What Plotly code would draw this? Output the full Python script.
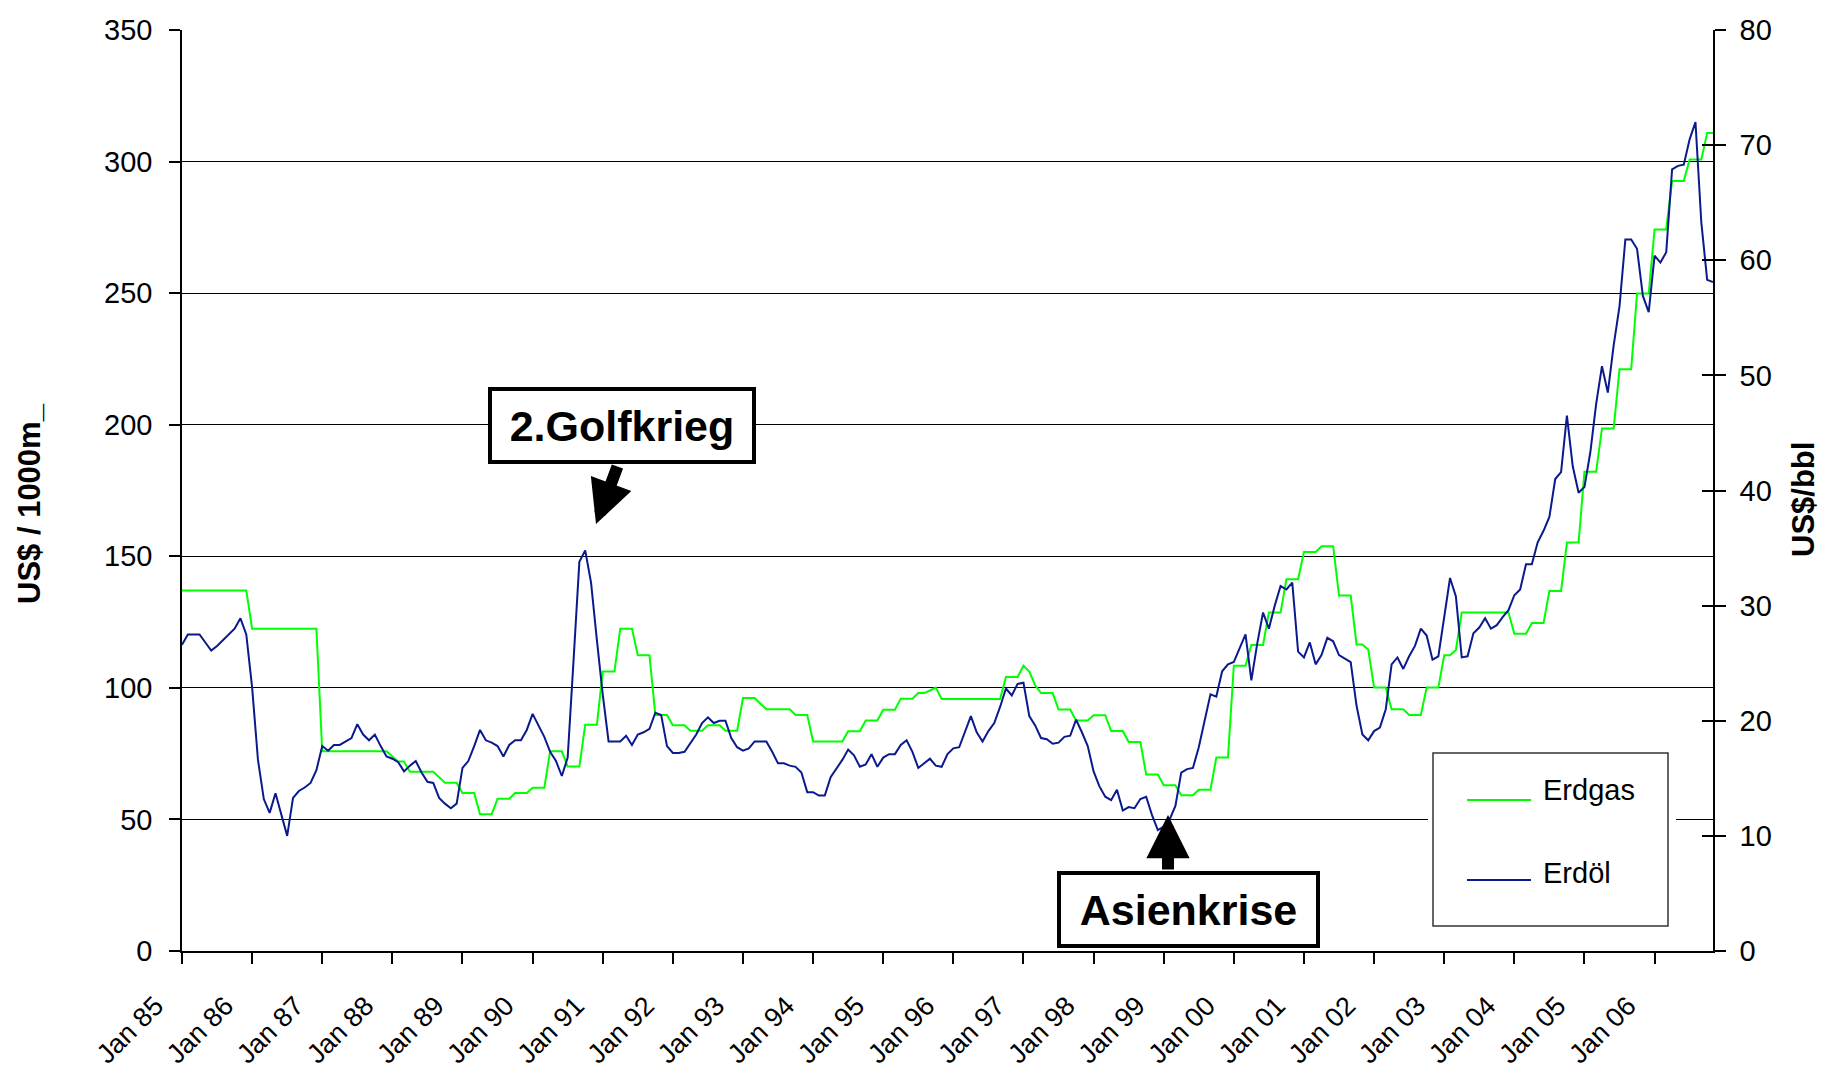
import plotly.graph_objects as go

# ---------------- data ----------------
MONTH_NAMES = ["Jan", "Feb", "Mar", "Apr", "May", "Jun",
               "Jul", "Aug", "Sep", "Oct", "Nov", "Dec"]
# monthly categories Jan 85 ... Nov 06
months = [f"{MONTH_NAMES[i % 12]} {(85 + i // 12) % 100:02d}" for i in range(263)]
tick_labels = ["Jan 85", "Jan 86", "Jan 87", "Jan 88", "Jan 89", "Jan 90", "Jan 91",
               "Jan 92", "Jan 93", "Jan 94", "Jan 95", "Jan 96", "Jan 97", "Jan 98",
               "Jan 99", "Jan 00", "Jan 01", "Jan 02", "Jan 03", "Jan 04", "Jan 05",
               "Jan 06"]

# Erdgas, US$ / 1000 m3 (left axis)
erdgas = [
    137.0, 137.0, 137.0, 137.0, 137.0, 137.0, 137.0, 137.0, 137.0, 137.0, 137.0, 137.0,  # 1985
    122.5, 122.5, 122.5, 122.5, 122.5, 122.5, 122.5, 122.5, 122.5, 122.5, 122.5, 122.5,  # 1986
    75.9, 75.9, 75.9, 75.9, 75.9, 75.9, 75.9, 75.9, 75.9, 75.9, 75.9, 75.9,              # 1987
    73.9, 72.0, 72.0, 68.1, 68.1, 68.1, 68.1, 68.1, 66.0, 63.9, 63.9, 63.9,              # 1988
    60.0, 60.0, 60.0, 52.0, 52.0, 52.0, 57.9, 57.9, 57.9, 60.0, 60.0, 60.0,              # 1989
    62.0, 62.0, 62.0, 75.9, 75.9, 75.9, 70.1, 70.1, 70.1, 86.0, 86.0, 86.0,              # 1990
    106.2, 106.2, 106.2, 122.5, 122.5, 122.5, 112.4, 112.4, 112.4, 89.7, 89.7, 89.7,     # 1991
    85.8, 85.8, 85.8, 83.7, 83.7, 83.7, 85.8, 85.8, 85.8, 83.7, 83.7, 83.7,              # 1992
    96.1, 96.1, 96.1, 94.0, 91.9, 91.9, 91.9, 91.9, 91.9, 89.7, 89.7, 89.7,              # 1993
    79.6, 79.6, 79.6, 79.6, 79.6, 79.6, 83.5, 83.5, 83.5, 87.6, 87.6, 87.6,              # 1994
    91.7, 91.7, 91.7, 95.9, 95.9, 95.9, 98.0, 98.0, 99.0, 100.1, 95.8, 95.8,             # 1995
    95.8, 95.8, 95.8, 95.8, 95.8, 95.8, 95.8, 95.8, 95.8, 104.1, 104.1, 104.1,           # 1996
    108.4, 106.2, 101.0, 98.0, 98.0, 98.0, 91.8, 91.8, 91.8, 87.6, 87.6, 87.6,           # 1997
    89.6, 89.6, 89.6, 83.6, 83.6, 83.6, 79.4, 79.4, 79.4, 67.1, 67.1, 67.1,              # 1998
    63.0, 63.0, 63.0, 59.2, 59.2, 59.2, 61.3, 61.3, 61.3, 73.5, 73.5, 73.5,              # 1999
    108.4, 108.4, 108.4, 116.3, 116.3, 116.3, 128.6, 128.6, 128.6, 141.3, 141.3, 141.3,  # 2000
    151.6, 151.6, 151.6, 153.8, 153.8, 153.8, 135.1, 135.1, 135.1, 116.5, 116.5, 114.6,  # 2001
    100.1, 100.1, 100.1, 91.9, 91.9, 91.9, 89.7, 89.7, 89.7, 100.1, 100.1, 100.1,        # 2002
    112.4, 112.4, 114.4, 128.6, 128.6, 128.6, 128.6, 128.6, 128.6, 128.6, 128.6, 128.6,  # 2003
    120.6, 120.6, 120.6, 124.6, 124.6, 124.6, 136.8, 136.8, 136.8, 155.2, 155.2, 155.2,  # 2004
    182.1, 182.1, 182.1, 198.6, 198.6, 198.6, 221.1, 221.1, 221.1, 249.9, 249.9, 249.9,  # 2005
    274.2, 274.2, 274.2, 292.6, 292.6, 292.6, 300.8, 300.8, 300.8, 310.9, 310.9,         # 2006
]

# Erdöl, US$ / bbl (right axis)
erdoel = [
    26.6, 27.5, 27.5, 27.5, 26.8, 26.1, 26.5, 27.0, 27.5, 28.0, 28.9, 27.5,  # 1985
    22.9, 16.6, 13.2, 12.0, 13.7, 11.9, 10.0, 13.3, 13.9, 14.2, 14.6, 15.7,  # 1986
    17.8, 17.4, 17.9, 17.9, 18.2, 18.5, 19.7, 18.8, 18.3, 18.8, 17.8, 16.9,  # 1987
    16.7, 16.4, 15.6, 16.1, 16.5, 15.5, 14.7, 14.6, 13.3, 12.8, 12.4, 12.8,  # 1988
    15.9, 16.5, 17.8, 19.2, 18.3, 18.1, 17.8, 16.9, 17.9, 18.3, 18.3, 19.2,  # 1989
    20.6, 19.6, 18.6, 17.3, 16.5, 15.2, 16.8, 25.2, 33.8, 34.8, 32.0, 27.0,  # 1990
    22.3, 18.2, 18.2, 18.2, 18.7, 17.9, 18.8, 19.0, 19.3, 20.7, 20.5, 17.8,  # 1991
    17.2, 17.2, 17.3, 18.0, 18.8, 19.8, 20.3, 19.8, 20.0, 20.0, 18.5, 17.7,  # 1992
    17.4, 17.6, 18.2, 18.2, 18.2, 17.3, 16.3, 16.3, 16.1, 16.0, 15.5, 13.8,  # 1993
    13.8, 13.5, 13.5, 15.1, 15.8, 16.6, 17.5, 17.0, 16.0, 16.2, 17.1, 16.0,  # 1994
    16.8, 17.1, 17.1, 17.9, 18.3, 17.3, 15.9, 16.3, 16.7, 16.1, 16.0, 17.1,  # 1995
    17.6, 17.7, 19.0, 20.4, 19.0, 18.2, 19.1, 19.8, 21.2, 22.8, 22.2, 23.2,  # 1996
    23.3, 20.4, 19.6, 18.5, 18.4, 18.0, 18.1, 18.6, 18.7, 20.1, 19.0, 17.8,  # 1997
    15.6, 14.3, 13.4, 13.1, 14.0, 12.2, 12.5, 12.4, 13.2, 13.4, 11.8, 10.5,  # 1998
    10.8, 11.4, 12.6, 15.5, 15.8, 15.9, 17.7, 20.0, 22.3, 22.1, 24.3, 24.9,  # 1999
    25.1, 26.3, 27.5, 23.5, 26.7, 29.4, 28.0, 30.0, 31.7, 31.4, 32.0, 26.0,  # 2000
    25.5, 26.8, 24.9, 25.7, 27.2, 26.9, 25.7, 25.4, 25.1, 21.3, 18.8, 18.3,  # 2001
    19.1, 19.4, 21.0, 24.9, 25.5, 24.5, 25.6, 26.5, 28.0, 27.4, 25.3, 25.6,  # 2002
    29.2, 32.4, 30.8, 25.5, 25.6, 27.6, 28.1, 28.9, 28.0, 28.3, 29.0, 29.6,  # 2003
    30.9, 31.4, 33.6, 33.6, 35.5, 36.5, 37.7, 41.0, 41.6, 46.5, 42.1, 39.8,  # 2004
    40.3, 43.3, 47.5, 50.8, 48.5, 52.6, 56.0, 61.8, 61.8, 61.0, 56.9, 55.5,  # 2005
    60.4, 59.8, 60.7, 67.9, 68.2, 68.3, 70.5, 72.0, 63.3, 58.3, 58.1,        # 2006
]

# ---------------- style ----------------
GREEN = "#00FF00"
BLUE = "#0A1A8C"
FONT = "Liberation Sans, Arial, sans-serif"
NBSP = "\u00a0"

fig = go.Figure()
fig.add_trace(go.Scatter(x=months, y=erdgas, name="Erdgas", mode="lines",
                         line=dict(color=GREEN, width=2), yaxis="y"))
fig.add_trace(go.Scatter(x=months, y=erdoel, name="Erdöl", mode="lines",
                         line=dict(color=BLUE, width=2), yaxis="y2"))
# helper (empty) trace so the inner tick marks of the right axis are drawn
fig.add_trace(go.Scatter(x=[], y=[], yaxis="y3", showlegend=False, hoverinfo="skip"))

axis_common = dict(showline=True, linecolor="black", linewidth=1.5,
                   ticks="outside", ticklen=11, tickwidth=1.5, tickcolor="black",
                   zeroline=False, automargin=False,
                   tickfont=dict(family=FONT, size=29, color="black"))

# the page body adds an 8 px margin, so the figure is 16 px smaller than the window
W, H = 1814, 1064
fig.update_layout(
    width=W, height=H,
    margin=dict(l=174, r=W - 174 - 1531, t=22, b=H - 22 - 921),
    paper_bgcolor="white", plot_bgcolor="white",
    showlegend=False,
    font=dict(family=FONT, size=29, color="black"),
    xaxis=dict(type="category", categoryorder="array", categoryarray=months,
               range=[0, len(months) - 1], tickmode="array",
               tickvals=tick_labels,
               ticktext=[t + NBSP * 5 for t in tick_labels],
               tickangle=-45, ticklabelstandoff=-11,
               showgrid=False,
               **{**axis_common, "tickfont": dict(family=FONT, size=27, color="black")}),
    yaxis=dict(range=[0, 350], tick0=0, dtick=50, showgrid=True,
               gridcolor="black", gridwidth=1.3, ticklabelstandoff=11,
               **axis_common),
    yaxis2=dict(range=[0, 80], tick0=0, dtick=10, overlaying="y", side="right",
                showgrid=False, ticklabelstandoff=8, **axis_common),
    yaxis3=dict(range=[0, 80], tick0=0, dtick=10, overlaying="y", side="right",
                showgrid=False, showline=False, zeroline=False, ticks="inside",
                ticklen=11, tickwidth=1.5, tickcolor="black", showticklabels=False),
)

def px_x(px):
    return (px - 182) / 1531.0

def px_y(py):
    return (951 - py) / 921.0

annotations = [
    # axis titles
    dict(text="<b>US$ / 1000m_</b>", x=px_x(29), y=px_y(504), textangle=-90,
         font=dict(family=FONT, size=31, color="black")),
    dict(text="<b>US$/bbl</b>", x=px_x(1803), y=px_y(500), textangle=-90,
         font=dict(family=FONT, size=31, color="black")),
    # event boxes
    dict(text="<b>2.Golfkrieg</b>", x=px_x(622), y=px_y(425.5),
         font=dict(family=FONT, size=43, color="black"),
         bordercolor="black", borderwidth=4, borderpad=0, bgcolor="white",
         width=260, height=69),
    dict(text="<b>Asienkrise</b>", x=px_x(1188.5), y=px_y(909.5),
         font=dict(family=FONT, size=43, color="black"),
         bordercolor="black", borderwidth=4, borderpad=0, bgcolor="white",
         width=255, height=69),
    # legend texts
    dict(text="Erdgas", x=px_x(1541), y=px_y(790), xanchor="left",
         font=dict(family=FONT, size=29, color="black")),
    dict(text="Erdöl", x=px_x(1541), y=px_y(873), xanchor="left",
         font=dict(family=FONT, size=29, color="black")),
]
for a in annotations:
    a.setdefault("xref", "paper")
    a.setdefault("yref", "paper")
    a.setdefault("showarrow", False)
    a.setdefault("xanchor", "center")
    a.setdefault("yanchor", "middle")

# arrows
annotations += [
    dict(text="", x=px_x(596), y=px_y(524), xref="paper", yref="paper",
         showarrow=True, ax=22, ay=-59, arrowhead=2, arrowsize=0.72,
         arrowwidth=12, arrowcolor="black"),
    dict(text="", x=px_x(1168), y=px_y(815), xref="paper", yref="paper",
         showarrow=True, ax=0, ay=56, arrowhead=2, arrowsize=0.72,
         arrowwidth=12, arrowcolor="black"),
]
fig.update_layout(annotations=annotations)

# legend box drawn by hand
fig.update_layout(shapes=[
    dict(type="rect", xref="paper", yref="paper", x0=px_x(1428), x1=px_x(1676),
         y0=px_y(930), y1=px_y(749), fillcolor="white", line=dict(width=0),
         layer="above"),
    dict(type="rect", xref="paper", yref="paper", x0=px_x(1433), x1=px_x(1668),
         y0=px_y(926), y1=px_y(753), fillcolor="white",
         line=dict(color="#333333", width=1.5), layer="above"),
    dict(type="line", xref="paper", yref="paper", x0=px_x(1467), x1=px_x(1531),
         y0=px_y(800), y1=px_y(800), line=dict(color=GREEN, width=2), layer="above"),
    dict(type="line", xref="paper", yref="paper", x0=px_x(1467), x1=px_x(1531),
         y0=px_y(880), y1=px_y(880), line=dict(color=BLUE, width=2), layer="above"),
])

fig.write_html("out.html")
